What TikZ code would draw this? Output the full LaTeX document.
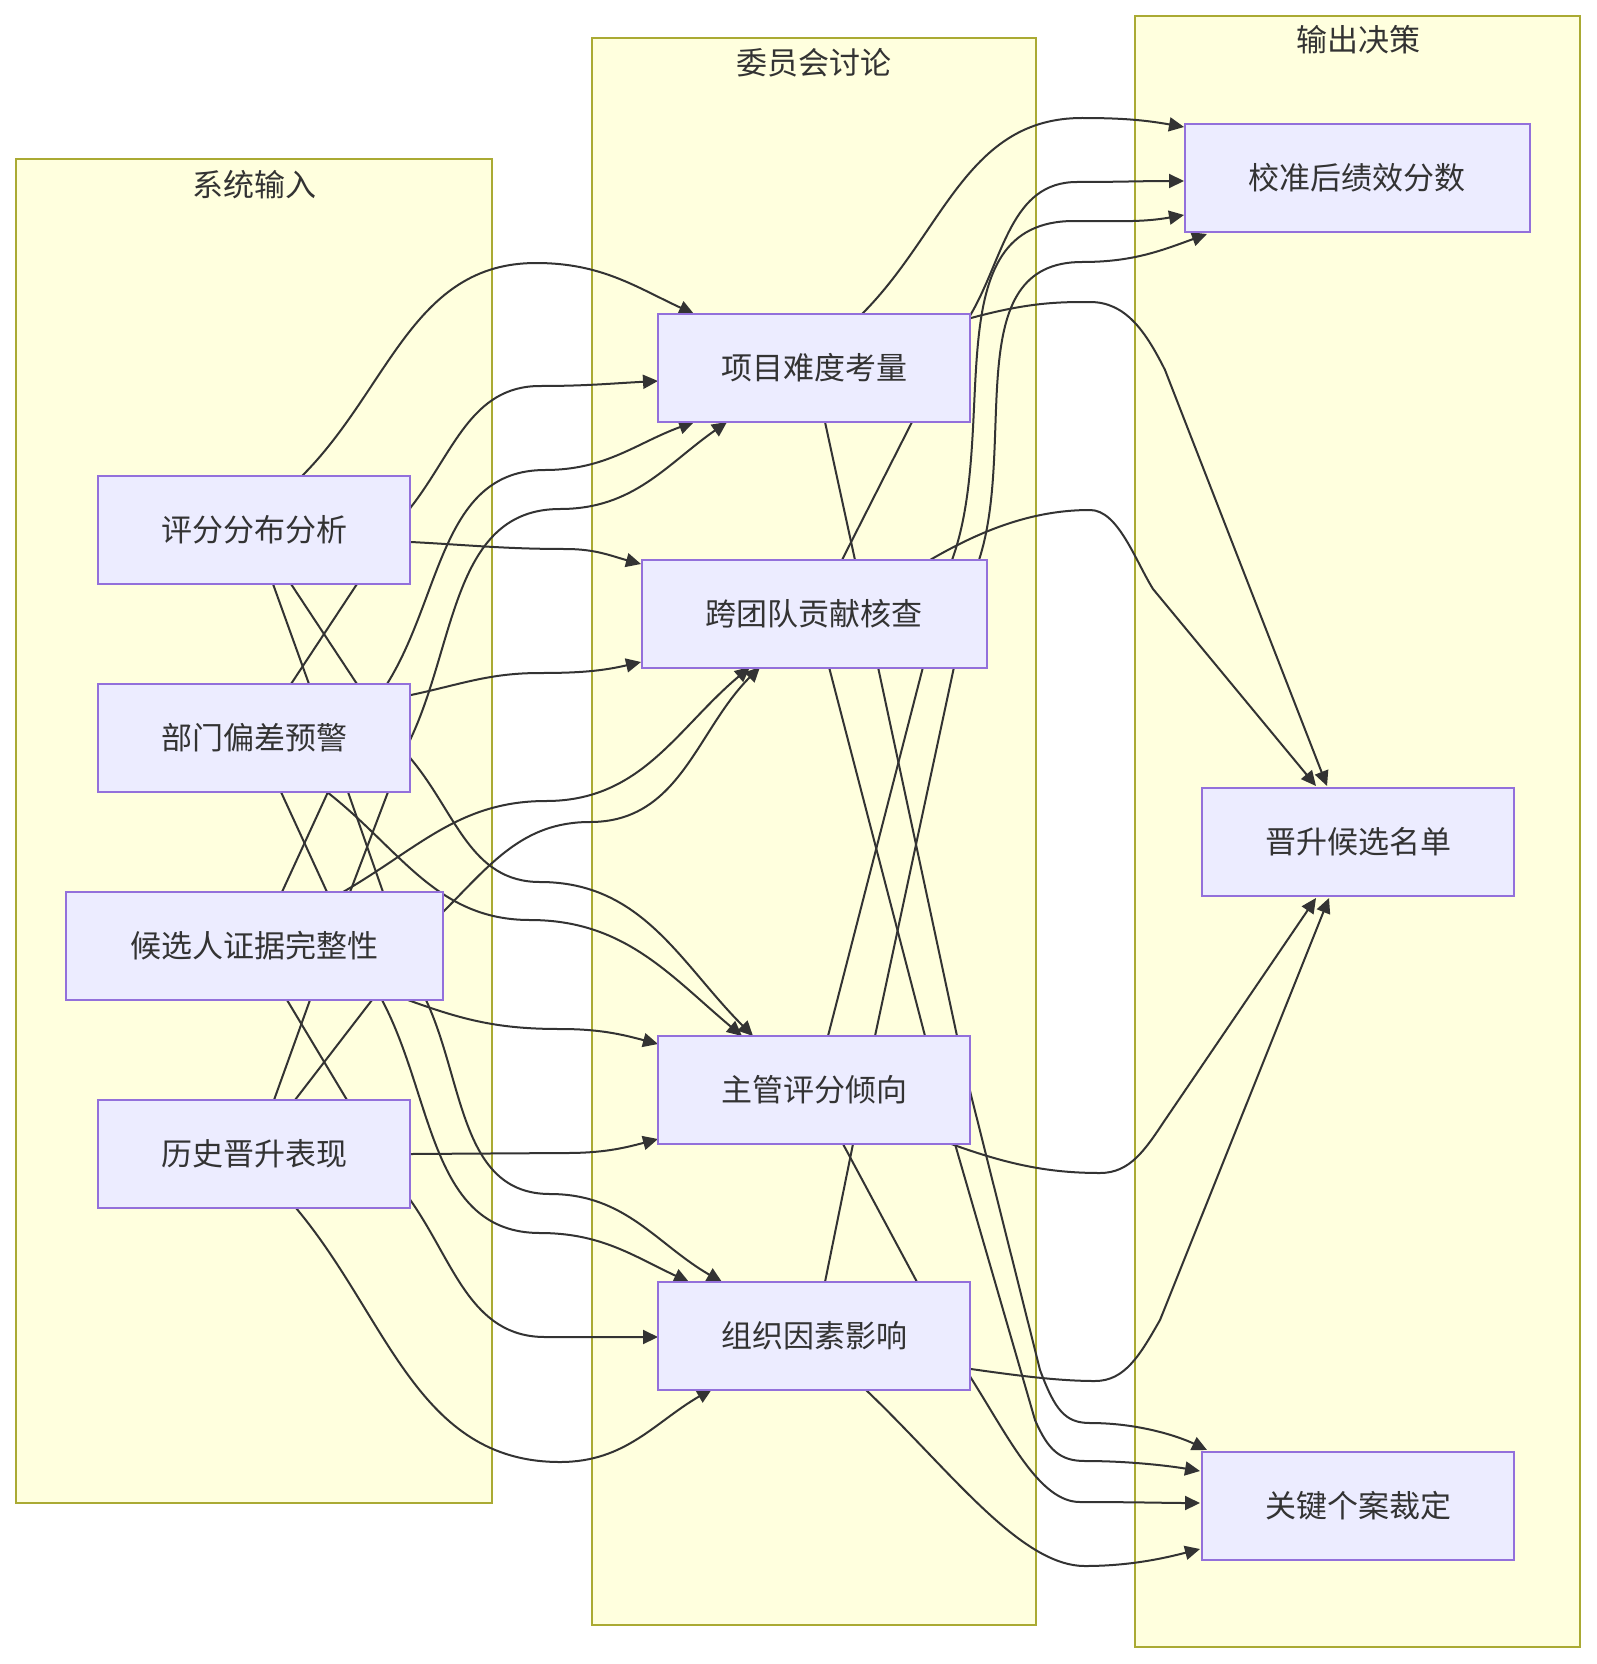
\documentclass[tikz,border=0pt]{standalone}
\usepackage{fontspec}
\setmainfont{Noto Sans CJK SC}
\usetikzlibrary{arrows.meta}
\definecolor{nodefill}{HTML}{ECECFF}
\definecolor{nodeline}{HTML}{9370DB}
\definecolor{clfill}{HTML}{FFFFDE}
\definecolor{clline}{HTML}{AAAA33}
\definecolor{txt}{HTML}{333333}
\pgfdeclarelayer{clusters}
\pgfdeclarelayer{edges}
\pgfsetlayers{clusters,edges,main}
\begin{document}
\begin{tikzpicture}[x=1pt,y=1pt,
  box/.style={draw=nodeline,fill=nodefill,line width=2pt,minimum height=108pt,inner sep=0pt,text=txt,font=\fontsize{31}{36}\selectfont},
  cl/.style={draw=clline,fill=clfill,line width=2pt},
  cltitle/.style={text=txt,font=\fontsize{31}{36}\selectfont,inner sep=0pt},
  edge/.style={draw=txt,line width=2pt,-{Triangle[length=15pt,width=14pt]}}]
\useasboundingbox (0,0) rectangle (1596,-1664);
\begin{pgfonlayer}{clusters}
\fill[white] (0,0) rectangle (1596,-1664);
\draw[cl] (16,-159) rectangle (492,-1503);
\draw[cl] (592,-38) rectangle (1036,-1625);
\draw[cl] (1135,-16) rectangle (1580,-1647);
\end{pgfonlayer}
\node[cltitle] (t1) at (254,-185) {系统输入};
\node[cltitle] (t2) at (814,-63) {委员会讨论};
\node[cltitle] (t3) at (1358,-40) {输出决策};
\node[box,minimum width=312pt] (A) at (254,-530) {评分分布分析};
\node[box,minimum width=312pt] (B) at (254,-738) {部门偏差预警};
\node[box,minimum width=377pt] (C) at (254,-946) {候选人证据完整性};
\node[box,minimum width=312pt] (D) at (254,-1154) {历史晋升表现};
\node[box,minimum width=312pt] (P) at (814,-368) {项目难度考量};
\node[box,minimum width=345pt] (Q) at (814,-614) {跨团队贡献核查};
\node[box,minimum width=312pt] (R) at (814,-1090) {主管评分倾向};
\node[box,minimum width=312pt] (S) at (814,-1336) {组织因素影响};
\node[box,minimum width=345pt] (X) at (1357,-178) {校准后绩效分数};
\node[box,minimum width=312pt] (Y) at (1358,-842) {晋升候选名单};
\node[box,minimum width=312pt] (Z) at (1358,-1506) {关键个案裁定};
\begin{pgfonlayer}{edges}
% inputs -> discussion
\draw[edge] (A.center) -- (302,-476) to[out=45,in=180] (536,-263) to[out=0,in=155] (694,-314);
\draw[edge] (C.center) -- (282,-892) -- (328,-792) -- (291,-684) -- (357,-584) -- (411,-507) to[out=52,in=180] (540,-386) to[out=0,in=183] (658,-381);
\draw[edge] (B.center) -- (387,-684) to[out=58,in=180] (545,-470) to[out=0,in=200] (694,-422);
\draw[edge] (D.center) -- (295,-1100) -- (372,-1000) -- (350,-892) -- (388,-792) -- (411,-738) to[out=65,in=180] (560,-509) to[out=0,in=215] (727,-422);
\draw[edge] (A.center) -- (411,-542) to[out=-3,in=180] (566,-549) to[out=0,in=165] (641,-564);
\draw[edge] (B.center) -- (411,-695) to[out=12,in=180] (540,-673) to[out=0,in=193] (641,-662);
\draw[edge] (D.center) -- (274,-1100) -- (310,-1000) -- (343,-892) to[out=30,in=180] (546,-801) to[out=0,in=220] (750,-667);
\draw[edge] (C.center) -- (442,-913) to[out=45,in=180] (590,-822) to[out=0,in=225] (760,-667);
\draw[edge] (A.center) -- (291,-584) -- (357,-684) -- (411,-759) to[out=-50,in=180] (540,-882) to[out=0,in=135] (753,-1036);
\draw[edge] (B.center) -- (327,-792) to[out=-38,in=180] (530,-920) to[out=0,in=140] (742,-1036);
\draw[edge] (C.center) -- (408,-1000) to[out=-20,in=180] (560,-1029) to[out=0,in=165] (658,-1044);
\draw[edge] (D.center) -- (411,-1154) -- (566,-1153) to[out=0,in=195] (658,-1139);
\draw[edge] (C.center) -- (382,-1000) to[out=-62,in=180] (540,-1233) to[out=0,in=155] (689,-1282);
\draw[edge] (A.center) -- (273,-584) -- (309,-684) -- (348,-792) -- (383,-892) -- (426,-1000) to[out=-65,in=180] (550,-1194) to[out=0,in=150] (722,-1282);
\draw[edge] (B.center) -- (281,-792) -- (327,-892) -- (287,-1000) -- (347,-1100) -- (411,-1201) to[out=-55,in=180] (545,-1337) to[out=0,in=180] (658,-1337);
\draw[edge] (D.center) -- (296,-1208) to[out=-50,in=180] (560,-1462) to[out=0,in=210] (712,-1389);
% discussion -> outputs
\draw[edge] (P.center) -- (862,-314) to[out=45,in=180] (1082,-118) to[out=0,in=170] (1184,-127);
\draw[edge] (Q.center) -- (842,-560) -- (912,-422) -- (971,-314) to[out=60,in=180] (1077,-182) to[out=0,in=180] (1184,-181);
\draw[edge] (R.center) -- (828,-1036) -- (923,-667) -- (952,-560) to[out=70,in=180] (1074,-221) to[out=0,in=190] (1184,-215);
\draw[edge] (S.center) -- (825,-1282) -- (853,-1144) -- (875,-1036) -- (954,-667) -- (979,-560) to[out=72,in=180] (1082,-262) to[out=0,in=200] (1207,-234);
\draw[edge] (P.center) -- (971,-318) .. controls (1030,-302) and (1060,-302) .. (1090,-302) .. controls (1125,-302) and (1145,-330) .. (1165,-370) -- (1327,-786);
\draw[edge] (Q.center) -- (930,-560) .. controls (990,-525) and (1040,-510) .. (1090,-510) .. controls (1118,-510) and (1135,-560) .. (1153,-589) -- (1316,-786);
\draw[edge] (R.center) -- (954,-1145) .. controls (1010,-1165) and (1050,-1173) .. (1100,-1173) .. controls (1130,-1173) and (1145,-1150) .. (1165,-1120) -- (1316,-898);
\draw[edge] (S.center) -- (971,-1369) .. controls (1020,-1376) and (1060,-1381) .. (1095,-1381) .. controls (1125,-1381) and (1140,-1355) .. (1160,-1320) -- (1329,-898);
\draw[edge] (P.center) -- (825,-422) -- (855,-560) -- (878,-667) -- (957,-1036) -- (971,-1095) -- (1040,-1370) .. controls (1055,-1410) and (1065,-1423) .. (1090,-1423) .. controls (1140,-1423) and (1180,-1437) .. (1207,-1450);
\draw[edge] (Q.center) -- (829,-667) -- (925,-1036) -- (955,-1144) -- (1035,-1420) .. controls (1048,-1450) and (1060,-1461) .. (1085,-1461) .. controls (1130,-1461) and (1170,-1466) .. (1200,-1471);
\draw[edge] (R.center) -- (843,-1144) -- (917,-1282) -- (971,-1378) .. controls (1010,-1440) and (1040,-1502) .. (1080,-1502) .. controls (1130,-1502) and (1170,-1503) .. (1200,-1503);
\draw[edge] (S.center) -- (865,-1389) .. controls (950,-1470) and (1020,-1566) .. (1085,-1566) .. controls (1130,-1566) and (1165,-1558) .. (1200,-1549);
\end{pgfonlayer}
\end{tikzpicture}
\end{document}
